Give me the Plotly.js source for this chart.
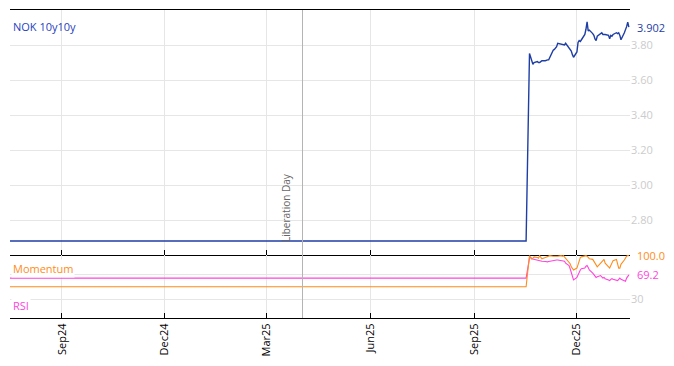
<!DOCTYPE html>
<html>
<head>
<meta charset="utf-8">
<script src="https://cdn.plot.ly/plotly-3.0.1.min.js"></script>
<style>html,body{margin:0;padding:0;background:#fff}#chart{width:674px;height:366px}</style>
</head>
<body>
<div id="chart"></div>
<script>
// ---- data ----
const flatDates = ["2024-07-17", "2025-10-17"];
const flatRate = [2.68, 2.68];
const flatMomentum = [50, 50];
const flatRsi = [64, 64];
const liveStart = "2025-10-20"; // first business day of live quotes
const rateValues = [3.752,3.73,3.705,3.69,3.70,3.705,3.70,3.70,3.705,3.71,3.71,3.715,3.715,3.715,3.73,3.77,3.775,3.78,3.79,3.81,3.805,3.805,3.805,3.80,3.81,3.785,3.775,3.765,3.745,3.73,3.76,3.815,3.825,3.82,3.83,3.86,3.89,3.933,3.88,3.885,3.865,3.855,3.835,3.825,3.85,3.865,3.87,3.86,3.86,3.86,3.855,3.835,3.855,3.85,3.86,3.87,3.865,3.87,3.855,3.83,3.87,3.885,3.905,3.93,3.902];
const momentumValues = [100,97,94.6,96,98,97,96,100,98,95,97,98,98,99,100,99,99,99,98,99,100,99,100,98,95,90,87,82,79,77,80,86,93,97,98,99,100,99,97,95,94,91,88,84,82,88,90,93,94,88,82,80,84,89,92,94,88,80,80,86,93,97,99,100,100];
const rsiValues = [96,97,95,94.5,94,93.5,93,92,91,91,90.5,90,90,90.5,91,92,92.5,93,93,93,92.5,92,91.5,91,88,84,79,72,66,61,65,70,74,77,79,80,83,84,81,77,72,69,66,65,66,68,66,64,65,63,61,60,62,63,62,60,60,62,64,62,60,59,64,68,69.2];
const yTicks = [2.8, 3.0, 3.2, 3.4, 3.6, 3.8];
const oscTicks = [30, 70];
const oscTickText = ["30", ""];
const eventDate = "2025-04-02";
const eventLabel = "Liberation Day";
const seriesName = "NOK 10y10y";

// business-day dates for the live quotes
function bizDays(start, n) {
  const out = [];
  const d = new Date(start + "T00:00:00Z");
  while (out.length < n) {
    const wd = d.getUTCDay();
    if (wd !== 0 && wd !== 6) out.push(d.toISOString().slice(0, 10));
    d.setUTCDate(d.getUTCDate() + 1);
  }
  return out;
}
const liveDates = bizDays(liveStart, rateValues.length);
const dates = flatDates.concat(liveDates);
const rate = flatRate.concat(rateValues);
const momentum = flatMomentum.concat(momentumValues);
const rsi = flatRsi.concat(rsiValues);

const BLUE = "#1e3ea6", ORANGE = "#ff8c1a", PINK = "#ff44dd";
const FONT = "Open Sans, Noto Sans, sans-serif";
const lastRate = rate[rate.length - 1];
const lastMom = momentum[momentum.length - 1];
const lastRsi = rsi[rsi.length - 1];

const traces = [
  {x: dates, y: rate, xaxis: "x", yaxis: "y", mode: "lines", line: {color: BLUE, width: 1.4}, hoverinfo: "skip"},
  {x: dates, y: rsi, xaxis: "x2", yaxis: "y2", mode: "lines", line: {color: PINK, width: 1.1}, hoverinfo: "skip"},
  {x: dates, y: momentum, xaxis: "x2", yaxis: "y2", mode: "lines", line: {color: ORANGE, width: 1.1}, hoverinfo: "skip"}
];

const split = 63 / 308;
const xr = ["2024-07-17", "2026-01-17"];
const layout = {
  width: 674, height: 366,
  margin: {l: 10, r: 44, t: 10, b: 48},
  paper_bgcolor: "#fff", plot_bgcolor: "#fff",
  showlegend: false,
  font: {family: FONT, size: 11, color: "#000"},
  xaxis: {
    anchor: "y", domain: [0, 1], type: "date", range: xr,
    dtick: "M3", tick0: "2024-09-01", tickformat: "%b%y",
    showticklabels: false, ticks: "inside", ticklen: 5, tickcolor: "#000",
    showline: true, linecolor: "#000", linewidth: 1, mirror: true,
    showgrid: true, gridcolor: "#e6e6e6", zeroline: false
  },
  xaxis2: {
    anchor: "y2", domain: [0, 1], type: "date", range: xr, matches: "x",
    dtick: "M3", tick0: "2024-09-01", tickformat: "%b%y", tickangle: -90,
    ticks: "inside", ticklen: 5, tickcolor: "#000",
    showline: true, linecolor: "#000", linewidth: 1,
    showgrid: true, gridcolor: "#e6e6e6", zeroline: false,
    tickfont: {family: FONT, size: 11, color: "#000"}
  },
  yaxis: {
    domain: [split, 1], range: [2.6, 4.0], side: "right",
    tickvals: yTicks, tickformat: ".2f", ticks: "",
    tickfont: {family: FONT, size: 11, color: "#cccccc"},
    showgrid: true, gridcolor: "#e6e6e6", zeroline: false, showline: false
  },
  yaxis2: {
    domain: [0, split], range: [0, 101], side: "right",
    tickvals: oscTicks, ticktext: oscTickText, ticks: "",
    tickfont: {family: FONT, size: 11, color: "#cccccc"},
    showgrid: true, gridcolor: "#e6e6e6", zeroline: false, showline: false
  },
  shapes: [
    {type: "line", xref: "x", yref: "paper", x0: eventDate, x1: eventDate, y0: 0, y1: 1,
     line: {color: "#b4b4b4", width: 1}}
  ],
  annotations: [
    {xref: "x", yref: "y", x: eventDate, y: 2.6, xanchor: "right", yanchor: "bottom",
     text: eventLabel, textangle: -90, showarrow: false, xshift: -8, yshift: 11,
     font: {family: FONT, size: 10, color: "#666"}},
    {xref: "paper", yref: "paper", x: 0, y: 1, xanchor: "left", yanchor: "top",
     text: seriesName, showarrow: false, xshift: 1, yshift: -7,
     font: {family: FONT, size: 11, color: "#1f3fbf"}},
    {xref: "paper", yref: "paper", x: 0, y: split, xanchor: "left", yanchor: "top",
     text: "Momentum", showarrow: false, xshift: 1, yshift: -4, bgcolor: "#fff",
     font: {family: FONT, size: 11, color: ORANGE}},
    {xref: "paper", yref: "paper", x: 0, y: 0, xanchor: "left", yanchor: "bottom",
     text: "RSI", showarrow: false, xshift: 1, yshift: 3, bgcolor: "#fff",
     font: {family: FONT, size: 11, color: PINK}},
    {xref: "paper", yref: "y", x: 1, y: lastRate, xanchor: "left", yanchor: "middle",
     text: lastRate.toFixed(3), showarrow: false, xshift: 5,
     font: {family: FONT, size: 11, color: BLUE}},
    {xref: "paper", yref: "y2", x: 1, y: lastMom, xanchor: "left", yanchor: "middle",
     text: lastMom.toFixed(1), showarrow: false, xshift: 5,
     font: {family: FONT, size: 11, color: ORANGE}},
    {xref: "paper", yref: "y2", x: 1, y: lastRsi, xanchor: "left", yanchor: "middle",
     text: lastRsi.toFixed(1), showarrow: false, xshift: 5,
     font: {family: FONT, size: 11, color: PINK}}
  ]
};

Plotly.newPlot("chart", traces, layout, {staticPlot: true, displayModeBar: false});
</script>
</body>
</html>
